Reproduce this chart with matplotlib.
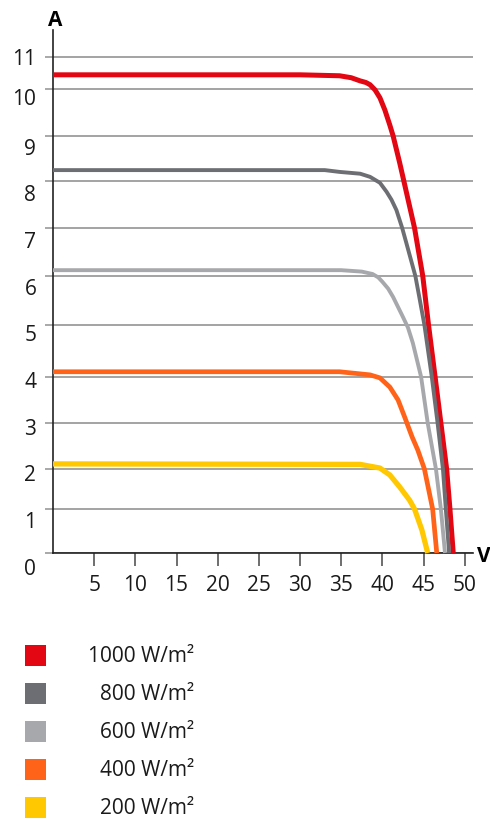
import numpy as np
import matplotlib
matplotlib.use("Agg")
import matplotlib.pyplot as plt
import matplotlib.transforms as mtransforms
from matplotlib.patches import Rectangle

plt.rcParams['font.family'] = ['Open Sans', 'DejaVu Sans']

# data
labels = ['1000 W/m²', '800 W/m²', '600 W/m²', '400 W/m²', '200 W/m²']
colors = ['#e30613', '#6d6e73', '#a7a8ab', '#ff6319', '#ffc800']

v_1000 = [0, 30, 34.8, 36.2, 37.3, 38.0, 38.5, 39.1, 39.7, 40.3, 40.9, 41.3, 42.1, 42.6, 43.9, 44.9, 45.6, 46.4, 47.1, 47.8, 48.2, 48.6]
i_1000 = [10.44, 10.44, 10.41, 10.35, 10.25, 10.2, 10.13, 9.98, 9.81, 9.55, 9.23, 9.0, 8.4, 8.0, 7.0, 6.0, 5.0, 4.0, 3.0, 2.0, 1.0, 0]

v_800 = [0, 33, 34.8, 37.3, 38.5, 39.7, 40.5, 41.1, 41.7, 42.4, 42.9, 44.0, 44.5, 45.1, 46.0, 46.7, 47.35, 47.7, 48.1]
i_800 = [8.24, 8.24, 8.2, 8.16, 8.09, 7.96, 7.77, 7.6, 7.38, 7.0, 6.69, 6.0, 5.55, 5.0, 4.0, 3.0, 2.0, 1.0, 0]

v_600 = [0, 35, 37.5, 38.8, 39.5, 40.0, 40.7, 41.3, 42.5, 43.1, 43.7, 44.7, 45.5, 46.5, 47.1, 47.6]
i_600 = [6.12, 6.12, 6.09, 6.04, 5.97, 5.88, 5.74, 5.57, 5.16, 4.95, 4.65, 4.0, 3.0, 2.0, 1.0, 0]

v_400 = [0, 34.8, 38.5, 39.7, 40.9, 41.9, 42.7, 43.6, 44.3, 45.1, 46.1, 46.6]
i_400 = [4.1, 4.1, 4.04, 3.98, 3.78, 3.5, 3.13, 2.7, 2.41, 2.0, 1.0, 0]

v_200 = [0, 37.3, 39.7, 40.9, 42.1, 43.3, 43.9, 44.8, 45.5]
i_200 = [2.11, 2.1, 2.02, 1.85, 1.55, 1.22, 1.0, 0.52, 0]

series = [(v_1000, i_1000), (v_800, i_800), (v_600, i_600), (v_400, i_400), (v_200, i_200)]
widths = [3.6, 2.8, 2.8, 3.4, 3.8]

x_ticks = [5, 10, 15, 20, 25, 30, 35, 40, 45, 50]
y_ticks = [0, 1, 2, 3, 4, 5, 6, 7, 8, 9, 10, 11]

# the original y axis is not evenly spaced: grid rows in pixels from the axis line
y_grid_vals = [0, 1, 2, 3, 4, 5, 6, 7, 8, 9, 10, 11, 12]
y_grid_pix = [0, 44, 84, 130, 176, 228, 277, 325, 372, 417, 464, 496, 528]
# and its tick labels sit a bit below their grid rows (px)
y_label_drop = [14, 11, 4, 4, 3, 8, 11, 12, 12, 11, 8, 0]


def fwd(v):
    return np.interp(v, y_grid_vals, y_grid_pix)


def inv(p):
    return np.interp(p, y_grid_pix, y_grid_vals)


W, H = 490, 821
fig = plt.figure(figsize=(W / 100, H / 100), dpi=100)
ax = fig.add_axes([53 / W, 268 / H, 420 / W, 523 / H])
ax.set_yscale('function', functions=(fwd, inv))
ax.set_xlim(0, 51)
ax.set_ylim(0, 11.84)

for (v, i), c, lw in zip(series, colors, widths):
    ax.plot(v, i, color=c, linewidth=lw, solid_capstyle='butt', solid_joinstyle='round',
            zorder=3, clip_on=False)

ax.set_xticks(x_ticks, [str(t) for t in x_ticks])
ax.set_yticks(y_ticks, [str(t) for t in y_ticks])
ax.yaxis.set_minor_locator(matplotlib.ticker.NullLocator())
ax.grid(axis='y', color='#9c9c9c', linewidth=1.3, zorder=1)
ax.set_axisbelow(True)

ax.tick_params(axis='x', direction='out', length=9, width=1.2, color='#555555',
               pad=7, labelsize=15, labelcolor='#1a1a1a')
ax.tick_params(axis='y', direction='out', length=6, width=1.2, color='#999999',
               pad=6, labelsize=15, labelcolor='#1a1a1a')
for lab, d in zip(ax.get_yticklabels(), y_label_drop):
    shift = mtransforms.ScaledTranslation(0, -d / 100, fig.dpi_scale_trans)
    lab.set_transform(lab.get_transform() + shift)

for s in ['top', 'right']:
    ax.spines[s].set_visible(False)
ax.spines['left'].set_color('#222222')
ax.spines['bottom'].set_color('#222222')
ax.spines['left'].set_linewidth(1.2)
ax.spines['bottom'].set_linewidth(1.2)

fig.text(55 / W, 1 - 21 / H, 'A', ha='center', va='center', fontsize=15, fontweight='bold')
fig.text(477 / W, 1 - 556 / H, 'V', ha='left', va='center', fontsize=15, fontweight='bold')

# legend: squares on the left, labels right aligned
for k, (lab, c) in enumerate(zip(labels, colors)):
    yc = 655 + k * 38
    fig.add_artist(Rectangle((25 / W, 1 - (yc + 10.5) / H), 21 / W, 21 / H,
                             transform=fig.transFigure, facecolor=c, edgecolor='none'))
    fig.text(194 / W, 1 - (yc + 1) / H, lab, ha='right', va='center', fontsize=15, color='#1a1a1a')

fig.savefig('out.png', dpi=100)
